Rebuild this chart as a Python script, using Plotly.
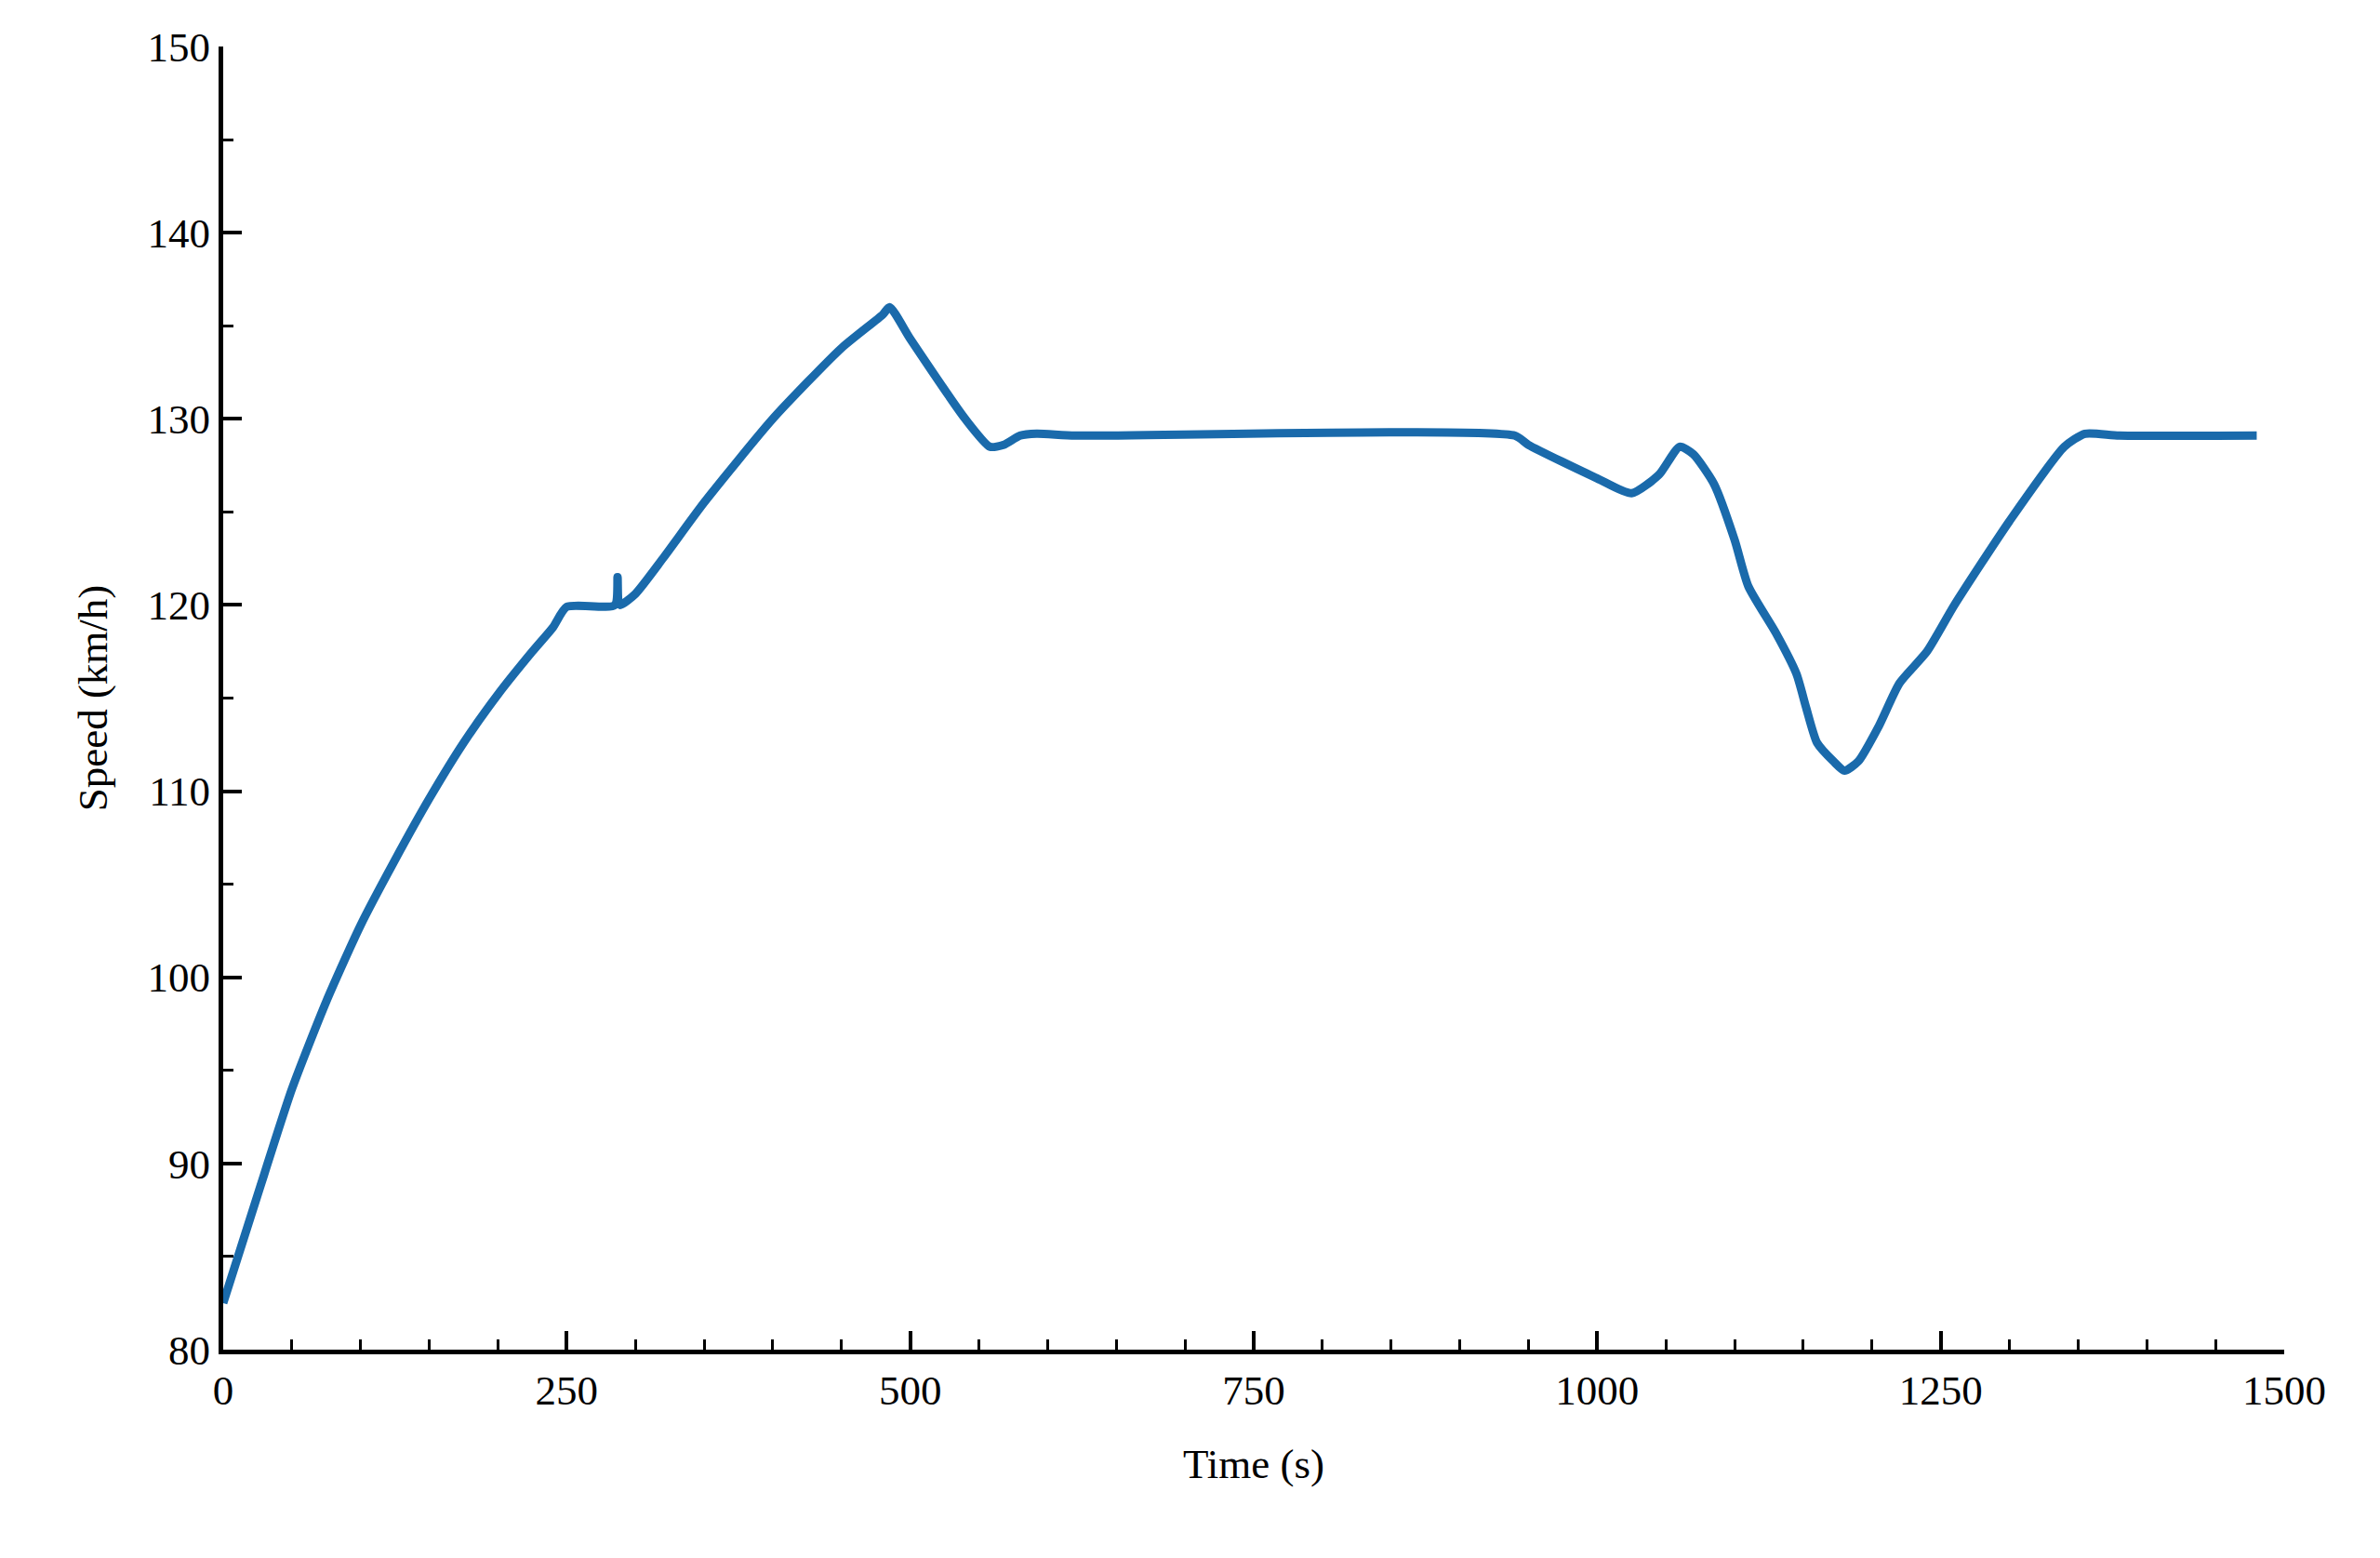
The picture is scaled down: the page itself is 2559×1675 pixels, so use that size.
import plotly.graph_objects as go

# speed profile
time_s = [0, 25, 50, 75, 100, 125, 150, 175, 200, 225, 240, 250, 285, 287, 287.5, 289,
          300, 320, 350, 400, 450, 480, 485, 500, 540, 558, 568, 580, 592, 620, 940, 950,
          1000, 1025, 1045, 1060, 1070, 1085, 1100, 1110, 1130, 1145, 1152, 1160, 1172,
          1180, 1190, 1205, 1220, 1240, 1260, 1300, 1340, 1355, 1380, 1480]
speed_kmh = [82.5, 88.3, 94, 98.7, 102.8, 106.3, 109.6, 112.6, 115.2, 117.5, 118.8, 119.9,
             120, 121.5, 120.3, 120, 120.6, 122.5, 125.5, 130, 133.8, 135.6, 136, 134.3, 130,
             128.5, 128.6, 129.1, 129.2, 129.1, 129.1, 128.6, 126.8, 126, 127, 128.5, 128.1,
             126.5, 123.5, 121, 118.5, 116.3, 114.5, 112.6, 111.6, 111.1, 111.6, 113.5, 115.8,
             117.5, 120, 124.5, 128.5, 129.2, 129.1, 129.1]

font = dict(family="Liberation Serif, Times New Roman, serif", size=45, color="black")

fig = go.Figure()
fig.add_trace(go.Scatter(x=time_s, y=speed_kmh, mode="lines",
                         line=dict(color="#1a6aab", width=9, shape="spline", smoothing=0.6)))

axis_common = dict(showline=True, linecolor="black", linewidth=5, showgrid=False,
                   zeroline=False, ticks="inside", ticklen=20, tickwidth=4,
                   tickcolor="black", tickfont=font, mirror=False)
fig.update_xaxes(range=[0, 1500], dtick=250, title=dict(text="Time (s)", font=font, standoff=40),
                 minor=dict(dtick=50, ticks="inside", ticklen=11, tickwidth=3, tickcolor="black"),
                 **axis_common)
fig.update_yaxes(range=[80, 150], dtick=10, title=dict(text="Speed (km/h)", font=font, standoff=30),
                 minor=dict(dtick=5, ticks="inside", ticklen=11, tickwidth=3, tickcolor="black"),
                 **axis_common)
fig.update_layout(width=2559, height=1675, plot_bgcolor="white", paper_bgcolor="white",
                  showlegend=False, margin=dict(l=232, r=111, t=42, b=232), font=font)

fig.write_html("out.html")
